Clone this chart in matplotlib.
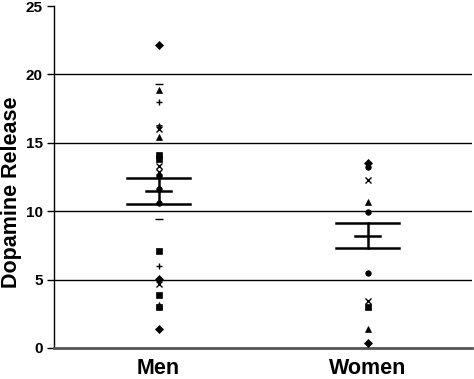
import matplotlib
matplotlib.use("Agg")
import matplotlib.pyplot as plt

plt.rcParams['font.family'] = ['Liberation Sans', 'DejaVu Sans']

categories = ["Men", "Women"]
men_values = [22.15, 19.3, 18.85, 18.0, 16.2, 16.0, 15.4, 14.1, 13.8, 13.3, 12.9, 12.6,
              11.6, 10.6, 9.43, 7.1, 6.0, 5.05, 4.7, 3.9, 3.15, 3.0, 1.39]
men_markers = ['D', '_', '^', '+', '*', 'x', '^', 's', 's', 'x', 'x', 'o',
               'o', 'o', '_', 's', '+', 'D', 'x', 's', '^', 's', 'D']
women_values = [13.5, 13.2, 12.3, 10.7, 9.95, 5.5, 3.4, 3.0, 1.4, 0.36]
women_markers = ['D', 'o', 'x', '^', 'o', 'o', 'x', 's', '^', 'D']
means = [11.5, 8.2]
sems = [0.95, 0.92]
yticks = [0, 5, 10, 15, 20, 25]

fig = plt.figure(figsize=(4.74, 3.79), dpi=100)
ax = fig.add_axes([0.114, 0.082, 0.882, 0.902])

for xi, vals, mks in [(1, men_values, men_markers), (2, women_values, women_markers)]:
    for v, m in zip(vals, mks):
        ms = 4
        mew = 1.0 if m in ('x', '+', '_') else 0.5
        if m == '_':
            ms = 5.5
        ax.plot([xi], [v], marker=m, color='black', markersize=ms,
                markeredgewidth=mew, linestyle='none', zorder=3)

for xi, m, s in zip([1, 2], means, sems):
    ax.plot([xi, xi], [m - s, m + s], color='black', lw=1.8, zorder=4)
    ax.plot([xi - 0.15, xi + 0.15], [m + s, m + s], color='black', lw=1.8, zorder=4)
    ax.plot([xi - 0.15, xi + 0.15], [m - s, m - s], color='black', lw=1.8, zorder=4)
    ax.plot([xi - 0.06, xi + 0.06], [m, m], color='black', lw=1.8, zorder=4)

ax.set_xlim(0.5, 2.5)
ax.set_ylim(0, 25)
ax.set_yticks(yticks)
ax.set_yticklabels([str(t) for t in yticks], fontsize=11, fontweight='bold')
ax.set_xticks([1, 2])
ax.set_xticklabels(categories, fontsize=15.5, fontweight='bold')
ax.tick_params(axis='x', length=0, pad=7)
ax.tick_params(axis='y', length=5, width=1, direction='out', pad=3)
for t in [5, 10, 15, 20]:
    ax.axhline(t, color='black', lw=1.0, zorder=1)
ax.spines['top'].set_visible(False)
ax.spines['right'].set_visible(False)
ax.spines['left'].set_linewidth(1.0)
ax.spines['bottom'].set_color('#555555')
ax.spines['bottom'].set_linewidth(2)
ax.set_ylabel("Dopamine Release", fontsize=15.5, fontweight='bold')
ax.yaxis.set_label_coords(-0.077, 0.455)

fig.savefig("out.png", dpi=100)
